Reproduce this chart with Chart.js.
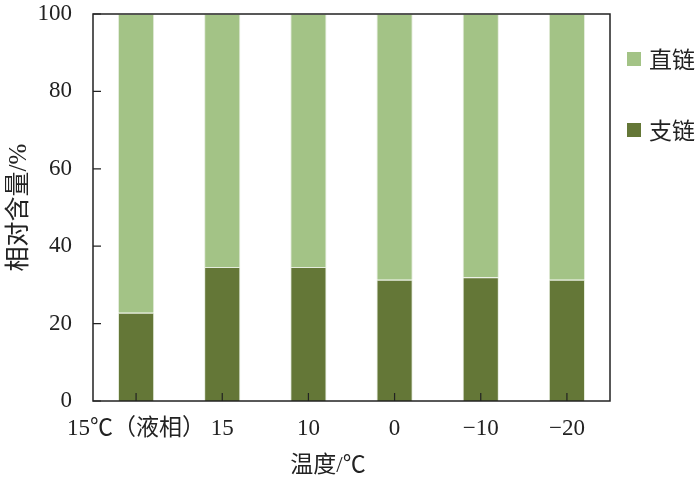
<!DOCTYPE html>
<html lang="zh">
<head>
    <meta charset="UTF-8">
    <title>相对含量</title>
    <script src="https://cdn.jsdelivr.net/npm/chart.js"></script>
    <style>
        body { margin: 0; background: #fff; }
        #wrap { width: 700px; height: 486px; }
    </style>
</head>
<body>
    <div id="wrap"><canvas id="chart" width="700" height="486"></canvas></div>
    <script>
        const categories = ['15℃（液相）', '15', '10', '0', '−10', '−20'];
        const branched = [22.8, 34.6, 34.6, 31.3, 32.0, 31.3];   // 支链
        const linear = [77.2, 65.4, 65.4, 68.7, 68.0, 68.7];     // 直链
        const yTicks = [0, 20, 40, 60, 80, 100];

        const FONT = '"Liberation Serif", "Noto Sans CJK SC", serif';
        const LIGHT = '#a3c386';
        const DARK = '#647737';

        // frame, inward ticks, x title and the legend on the right
        const decor = {
            id: 'decor',
            afterDraw(chart) {
                const ctx = chart.ctx;
                const a = chart.chartArea;
                const x = chart.scales.x, y = chart.scales.y;
                ctx.save();
                ctx.strokeStyle = '#222';
                ctx.lineWidth = 1.5;
                ctx.strokeRect(a.left, a.top, a.right - a.left, a.bottom - a.top);
                ctx.lineWidth = 1.2;
                ctx.beginPath();
                yTicks.forEach(v => {
                    const py = y.getPixelForValue(v);
                    ctx.moveTo(a.left, py);
                    ctx.lineTo(a.left + 8, py);
                });
                categories.forEach((c, i) => {
                    const px = x.getPixelForValue(i);
                    ctx.moveTo(px, a.bottom);
                    ctx.lineTo(px, a.bottom - 8);
                });
                ctx.stroke();

                ctx.fillStyle = '#222';
                ctx.font = '23px ' + FONT;
                ctx.textAlign = 'center';
                ctx.textBaseline = 'middle';
                ctx.fillText('温度/℃', 328, 466);

                const items = [chart.data.datasets[1], chart.data.datasets[0]];
                ctx.textAlign = 'left';
                items.forEach((ds, i) => {
                    const cy = 59 + i * 71;
                    ctx.fillStyle = ds.backgroundColor;
                    ctx.fillRect(627, cy - 7, 14, 14);
                    ctx.fillStyle = '#222';
                    ctx.fillText(ds.label, 649, cy + 3);
                });
                ctx.restore();
            }
        };

        new Chart(document.getElementById('chart'), {
            type: 'bar',
            data: {
                labels: categories,
                datasets: [
                    { label: '支链', data: branched, backgroundColor: DARK, borderColor: '#e4ecdc', borderWidth: 1 },
                    { label: '直链', data: linear, backgroundColor: LIGHT, borderColor: '#e4ecdc', borderWidth: 1 }
                ]
            },
            options: {
                responsive: false,
                animation: false,
                layout: { padding: { top: 14, right: 90, left: 0, bottom: 0 } },
                datasets: { bar: { barPercentage: 0.42, categoryPercentage: 1.0 } },
                plugins: { legend: { display: false }, tooltip: { enabled: false } },
                scales: {
                    x: {
                        stacked: true,
                        grid: { display: false },
                        border: { display: false },
                        ticks: { color: '#222', padding: 6, maxRotation: 0, autoSkip: false, font: { family: FONT, size: 23 } },
                        afterFit: s => { s.height = 85; s.paddingLeft = 0; s.paddingRight = 0; }
                    },
                    y: {
                        stacked: true,
                        min: 0,
                        max: 100,
                        afterBuildTicks: s => { s.ticks = yTicks.map(v => ({ value: v })); },
                        grid: { display: false },
                        border: { display: false },
                        ticks: { color: '#222', padding: 13, font: { family: FONT, size: 23 } },
                        title: { display: true, text: '相对含量/%', color: '#222', padding: { bottom: 2 }, font: { family: FONT, size: 25 } },
                        afterFit: s => { s.width = 93; s.paddingTop = 0; s.paddingBottom = 0; }
                    }
                }
            },
            plugins: [decor]
        });
    </script>
</body>
</html>
